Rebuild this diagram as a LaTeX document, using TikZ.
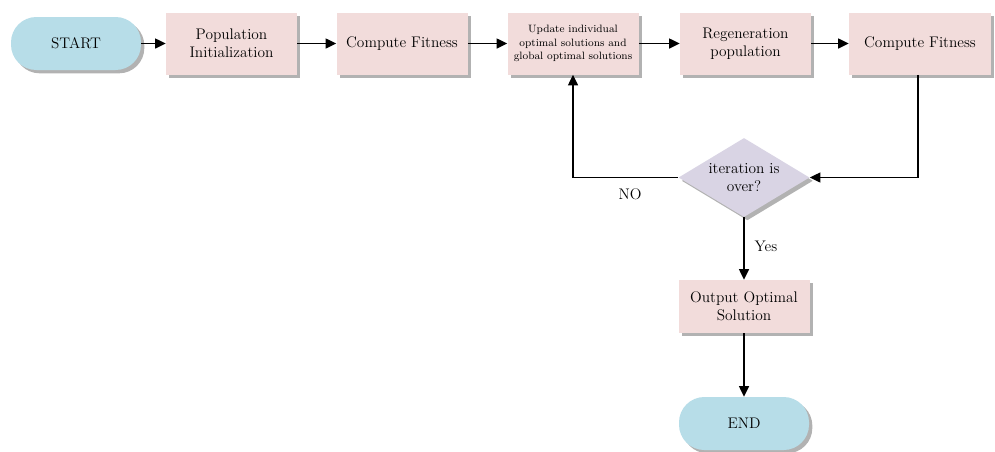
\documentclass[tikz,border=0pt]{standalone}
\usetikzlibrary{shapes.geometric,arrows.meta,shadows}
\definecolor{pillblue}{HTML}{B7DDE8}
\definecolor{boxpink}{HTML}{F2DCDB}
\definecolor{dialav}{HTML}{D9D4E4}
\begin{document}
\begin{tikzpicture}[x=0.75pt,y=-0.75pt,
  shad/.style={drop shadow={shadow xshift=2.5pt,shadow yshift=-2.5pt,fill=black,opacity=0.3}},
  pill/.style={shad,fill=pillblue,rounded corners=19pt,minimum width=97.5pt,minimum height=39.75pt,align=center,font=\fontsize{11.5}{13.5}\selectfont},
  procbox/.style={shad,fill=boxpink,minimum width=98.25pt,minimum height=46.5pt,align=center,inner sep=2pt,font=\fontsize{11.5}{13.5}\selectfont},
  decide/.style={shad,diamond,aspect=1.66,fill=dialav,minimum width=98.25pt,minimum height=59.25pt,inner sep=0pt,align=center,font=\fontsize{11.5}{13.5}\selectfont},
  arr/.style={line width=1.1pt,-{Triangle[length=8pt,width=7.5pt]}},
  lbl/.style={font=\fontsize{11.5}{13.5}\selectfont}]
\useasboundingbox (0,0) rectangle (995,451);
\node[pill] (start) at (76,43.5) {START};
\node[procbox] (init) at (231.5,43.5) {Population\\Initialization};
\node[procbox] (cf1) at (402,43.5) {Compute Fitness};
\node[procbox,font=\fontsize{8}{10}\selectfont] (upd) at (573,43.5) {Update individual\\optimal solutions and\\global optimal solutions};
\node[procbox] (regen) at (745.5,43.5) {Regeneration\\population};
\node[procbox,minimum width=106.5pt] (cf2) at (920,43.5) {Compute Fitness};
\node[decide] (dia) at (744,177.5) {iteration is\\over?};
\node[procbox,minimum height=39.75pt] (out) at (744,306.5) {Output Optimal\\Solution};
\node[pill] (end) at (744,423.5) {END};
\node[lbl] (no) at (630,194) {NO};
\node[lbl] (yes) at (766,246) {Yes};
\draw[arr] (start) -- (init);
\draw[arr] (init) -- (cf1);
\draw[arr] (cf1) -- (upd);
\draw[arr] (upd) -- (regen);
\draw[arr] (regen) -- (cf2);
\draw[arr] ([xshift=-1.5pt]cf2.south) |- (dia.east);
\draw[arr] (dia.west) -| (upd.south);
\draw[arr] (dia.south) -- (out.north);
\draw[arr] (out.south) -- (end.north);
\end{tikzpicture}
\end{document}
